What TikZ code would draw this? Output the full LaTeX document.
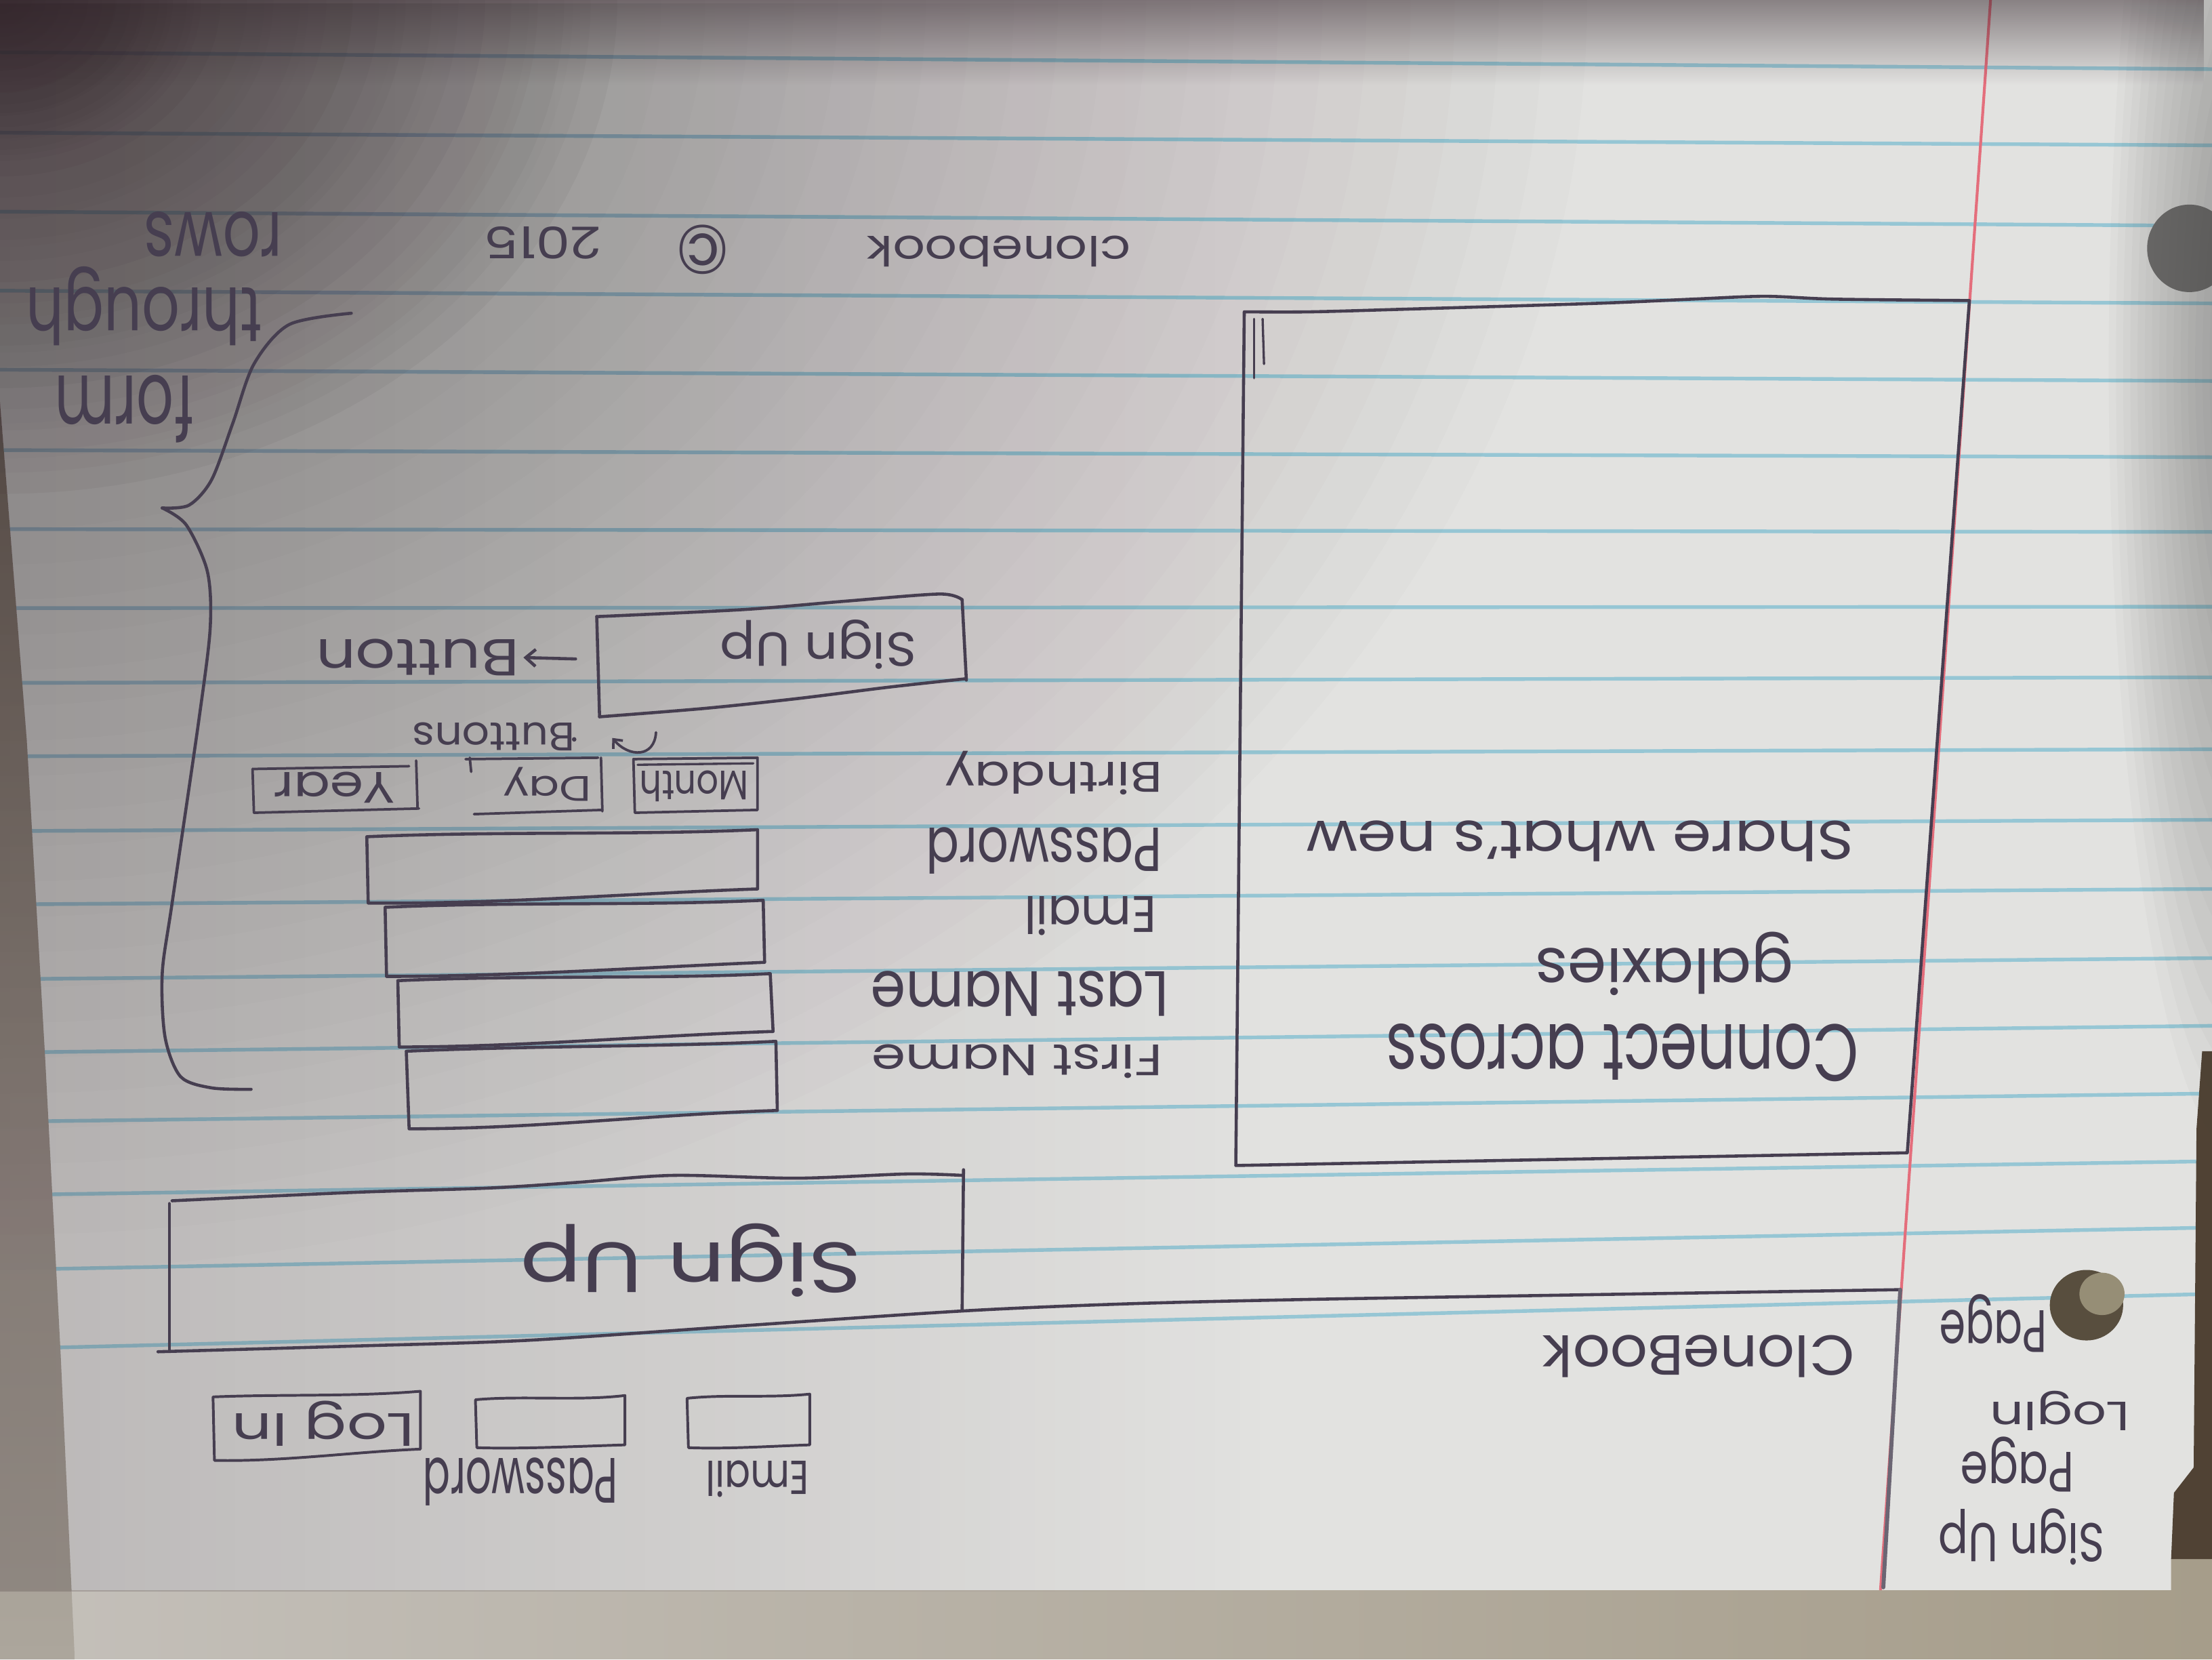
\documentclass[tikz,border=0pt]{standalone}
\usepackage{fontspec}
\setmainfont{Poppins}
\usepackage{graphicx}
\usetikzlibrary{arrows.meta,fadings}

\definecolor{ink}{RGB}{70,62,80}
\definecolor{paper}{RGB}{226,226,224}
\definecolor{rulecol}{RGB}{150,198,212}
\definecolor{margincol}{RGB}{228,110,124}
\definecolor{shadow}{RGB}{48,34,40}
\definecolor{deskdark}{RGB}{80,66,52}
\definecolor{holegray}{RGB}{110,108,106}
\definecolor{holedark}{RGB}{88,78,62}
\definecolor{holelight}{RGB}{150,142,118}

\tikzfading[name=fadeleft, left color=transparent!0, right color=transparent!100]
\tikzfading[name=fadetop, top color=transparent!0, bottom color=transparent!100]

% handwritten label: width, total height, text
\newcommand{\hw}[3]{\resizebox*{#1pt}{#2pt}{#3}}

\begin{document}
\begin{tikzpicture}[x=1pt,y=-1pt,
  pen/.style={draw=ink, line width=2.2pt, line cap=round, line join=round},
  arr/.style={pen, -{Straight Barb[length=7pt,width=12pt]}},
  lbl/.style={text=ink, inner sep=0pt, outer sep=0pt, rotate=180},
  rulepen/.style={draw=rulecol, line width=2.6pt}]
\useasboundingbox (0,0) rectangle (1568,1176);
\clip (0,0) rectangle (1568,1176);

% ---------- sheet of ruled paper ----------
\fill[paper] (0,0) rectangle (1568,1176);
\foreach \yl/\yr in {37/49,94/103,150/160,206/215,262/270,319/324,375/377,431/430,
  484/480,536/531,589/581,641/630,694/679,746/727,795/775,847/823,900/870,956/917}
  {\draw[rulepen] (0,\yl) -- (1568,\yr);}
\draw[margincol, line width=2pt] (1411,0) -- (1333,1127);

% surfaces around the sheet
\shade[left color={rgb,255:red,196;green,192;blue,186}, right color={rgb,255:red,166;green,157;blue,138}]
  (0,1127) -- (1539,1127) -- (1539,1105) -- (1568,1105) -- (1568,1176) -- (0,1176) -- cycle;
\shade[top color={rgb,255:red,128;green,118;blue,110}, bottom color={rgb,255:red,172;green,166;blue,156}]
  (0,285) -- (19,525) -- (32,750) -- (43,960) -- (53,1176) -- (0,1176) -- cycle;
\fill[deskdark] (1561,745) -- (1557,800) -- (1555,1040) -- (1541,1058) -- (1539,1105)
  -- (1568,1105) -- (1568,745) -- cycle;

% punched holes
\fill[holegray] (1552,176) ellipse (30 and 31);
\fill[holedark] (1479,925) ellipse (26 and 25);
\fill[holelight] (1490,917) ellipse (16 and 15);

% light fall-off
\fill[shadow, path fading=fadeleft, opacity=0.22] (0,0) rectangle (900,1127);
\foreach \r in {100,125,...,900} {\fill[shadow, opacity=0.013] (0,0) ellipse ({1.25*\r} and \r);}
\foreach \r in {20,35,...,350} {\fill[shadow, opacity=0.03] (0,0) ellipse ({1.25*\r} and \r);}
\foreach \r in {10,18,...,120} {\fill[shadow, opacity=0.045] (0,0) ellipse ({1.25*\r} and \r);}
\fill[shadow, path fading=fadetop, opacity=0.5] (0,0) rectangle (1568,60);
\foreach \r in {80,110,...,560} {\fill[black!70, opacity=0.03] (1590,260) ellipse ({0.17*\r} and \r);}

% ---------- welcome panel ----------
\draw[pen] plot[smooth] coordinates {(882,221) (929,221) (1000,219) (1131,215) (1200,212) (1251,210) (1300,212) (1396,213)}
  -- (1352,817) -- (876,826) -- cycle;
\draw[pen, line width=1.6pt] (889,226) -- (889,268);
\draw[pen, line width=1.6pt] (895,226) -- (896,258);
\node[lbl] (tConnect) at (1150,746) {\hw{335}{41}{Connect across}};
\node[lbl] (tGalaxies) at (1180,683) {\hw{183}{45}{galaxies}};
\node[lbl] (tShare) at (1120,596) {\hw{388}{29}{Share what's new}};

% ---------- sign-up form fields ----------
\draw[pen] (260,593) .. controls (350,589) and (450,592) .. (537,588) -- (537,630)
  .. controls (450,633) and (350,641) .. (261,640) -- cycle;
\draw[pen] (273,643) .. controls (360,639) and (460,642) .. (541,638) -- (542,682)
  .. controls (450,686) and (360,692) .. (274,692) -- cycle;
\draw[pen] (282,695) .. controls (370,691) and (470,694) .. (546,690) -- (548,731)
  .. controls (460,734) and (370,742) .. (283,742) -- cycle;
\draw[pen] (288,745) .. controls (380,741) and (470,742) .. (550,738) -- (551,787)
  .. controls (460,790) and (380,800) .. (290,800) -- cycle;
\node[lbl] (tFirst) at (721,752) {\hw{206}{24}{First Name}};
\node[lbl] (tLast) at (723,704) {\hw{211}{32}{Last Name}};
\node[lbl] (tEmail) at (773,649) {\hw{94}{28}{Email}};
\node[lbl] (tPassword) at (740,603) {\hw{167}{33}{Password}};
\node[lbl] (tBirthday) at (747,548) {\hw{154}{31}{Birthday}};

% birthday pickers
\draw[pen, line width=1.8pt] (449,538) -- (537,537) -- (537,574) -- (450,576) -- cycle;
\draw[pen, line width=1.6pt] (452,542) -- (534,541);
\draw[pen, line width=1.8pt] (330,538) -- (424,537);
\draw[pen, line width=1.8pt] (426,537) -- (427,575);
\draw[pen, line width=1.8pt] (336,577) -- (427,574);
\draw[pen, line width=1.8pt] (333,537) -- (334,547);
\draw[pen, line width=1.8pt] (179,545) -- (290,543);
\draw[pen, line width=1.8pt] (295,539) -- (296,573);
\draw[pen, line width=1.8pt] (180,576) -- (297,573);
\draw[pen, line width=1.8pt] (179,545) -- (180,576);
\node[lbl] (tMonth) at (492,557) {\hw{77}{22}{Month}};
\node[lbl] (tDay) at (388,556) {\hw{62}{24}{Day}};
\node[lbl] (tYear) at (237,558) {\hw{86}{22}{Year}};

% buttons note with hooked arrow
\node[lbl] (tButtons) at (350,522) {\hw{115}{20}{Buttons}};
\fill[ink] (407,524) circle (1.6);
\coordinate (hookStart) at (465,519);
\draw[arr, -{Straight Barb[length=5pt,width=9pt]}, line width=1.8pt] (hookStart) .. controls (464,537) and (446,537) .. (434,523);

% sign-up button
\draw[pen] plot[smooth] coordinates {(423,437) (527,432) (600,426) (666,421) (682,425)};
\draw[pen] (682,425) -- (685,482);
\draw[pen] plot[smooth] coordinates {(425,508) (500,502) (566,495) (630,487) (685,481)};
\draw[pen] (423,437) -- (425,508);
\node[lbl] (tSignUpBtn) at (580,457) {\hw{139}{35}{Sign Up}};
\node[lbl] (tButton) at (296,466) {\hw{144}{26}{Button}};
\coordinate (btnTail) at (408,467);
\draw[arr] (btnTail) -- ([xshift=3pt]tButton.west);

% brace grouping the form rows
\draw[pen] plot[smooth] coordinates {(249,222) (205,230) (180,258) (165,300) (150,340) (134,358) (115,360)};
\draw[pen] plot[smooth] coordinates {(115,360) (132,372) (147,405) (149,445) (141,510) (122,640) (115,690) (117,735) (128,763) (150,771) (178,772)};
\node[lbl] (tRows) at (151,166) {\hw{98}{32}{rows}};
\node[lbl] (tThrough) at (102,217) {\hw{167}{56}{through}};
\node[lbl] (tForm) at (88,290) {\hw{98}{48}{form}};

% footer
\node[lbl] (tFooter) at (708,178) {\hw{187}{22}{clonebook}};
\node[lbl] (tCopy) at (498,177) {\hw{37}{35}{©}};
\node[lbl] (tYearNum) at (385,172) {\hw{83}{23}{2015}};

% ---------- header with large sign-up block ----------
\draw[pen] plot[smooth] coordinates {(122,851) (252,845) (346,842) (409,838) (477,833) (565,835) (643,832) (682,833)};
\draw[pen] (120,853) -- (120,957);
\draw[pen] (683,829) -- (682,929);
\node[lbl] (tSignUpBig) at (490,893) {\hw{242}{52}{Sign Up}};

% ---------- log-in page strip ----------
\draw[pen] plot[smooth] coordinates {(112,958) (250,954) (372,950) (520,940) (684,929) (800,924) (923,921) (1100,918) (1347,914)};
\draw[pen, line width=2.8pt, draw=ink!80] (1347,914) -- (1335,1125);
\node[lbl] (tCloneBook) at (1204,961) {\hw{221}{30}{CloneBook}};

\draw[pen, line width=1.9pt] (151,990) .. controls (200,988) and (250,990) .. (298,986) -- (298,1027)
  .. controls (250,1029) and (200,1036) .. (152,1035) -- cycle;
\node[lbl] (tLogIn) at (229,1009) {\hw{129}{32}{Log In}};
\draw[pen, line width=1.9pt] (337,992) .. controls (370,989) and (410,993) .. (443,989) -- (443,1024)
  .. controls (410,1025) and (370,1027) .. (338,1026) -- cycle;
\draw[pen, line width=1.9pt] (487,991) .. controls (515,988) and (545,991) .. (574,988) -- (574,1024)
  .. controls (545,1025) and (515,1027) .. (488,1026) -- cycle;
\node[lbl] (tLoginPwd) at (369,1050) {\hw{138}{34}{Password}};
\node[lbl] (tLoginEmail) at (537,1048) {\hw{73}{26}{Email}};

% page titles in the margin
\node[lbl] (tNoteA) at (1433,1089) {\hw{118}{40}{Sign Up}};
\node[lbl] (tNoteB) at (1430,1038) {\hw{80}{39}{Page}};
\node[lbl] (tNoteC) at (1460,1000) {\hw{99}{28}{LogIn}};
\node[lbl] (tNoteD) at (1413,938) {\hw{76}{41}{Page}};
\end{tikzpicture}
\end{document}
